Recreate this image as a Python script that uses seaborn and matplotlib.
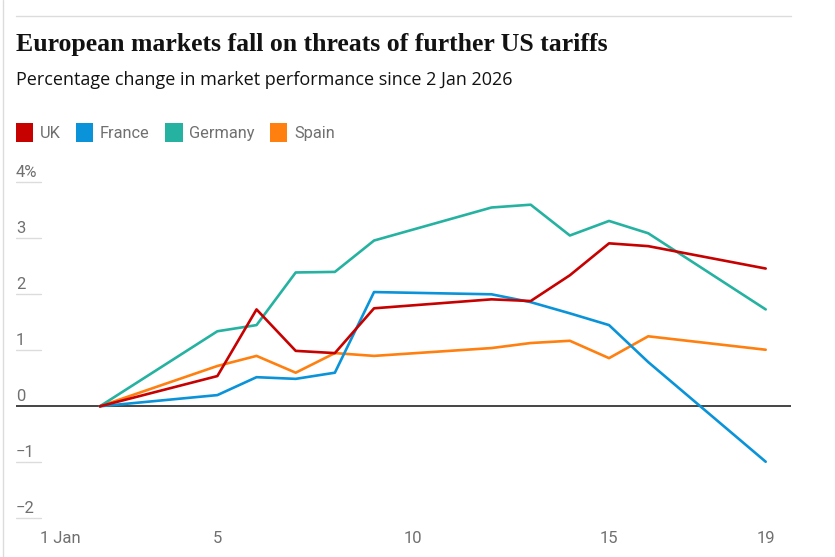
import pandas as pd
import matplotlib.pyplot as plt
import matplotlib.transforms as mtransforms
from matplotlib.lines import Line2D
from matplotlib.patches import Patch
import seaborn as sns


# ============================================================
# Data (percentage change since 2 Jan 2026)
# ============================================================

days = [2, 5, 6, 7, 8, 9, 12, 13, 14, 15, 16, 19]

uk = [0, 0.54, 1.73, 0.99, 0.95, 1.75, 1.91, 1.88, 2.34, 2.91, 2.86, 2.46]
france = [0, 0.20, 0.52, 0.49, 0.60, 2.04, 2.00, 1.86, 1.66, 1.45, 0.79, -0.99]
germany = [0, 1.34, 1.45, 2.39, 2.40, 2.96, 3.55, 3.60, 3.05, 3.31, 3.09, 1.73]
spain = [0, 0.72, 0.90, 0.60, 0.95, 0.90, 1.04, 1.13, 1.17, 0.86, 1.25, 1.01]

markets = ["UK", "France", "Germany", "Spain"]
colors = ["#c70000", "#0a93d8", "#25b2a1", "#ff7f0f"]

x_ticks = [1, 5, 10, 15, 19]
x_labels = ["1 Jan", "5", "10", "15", "19"]
y_ticks = [4, 3, 2, 1, 0, -1, -2]
y_labels = ["4%", "3", "2", "1", "0", "\u22121", "\u22122"]

df = pd.DataFrame({
    "day": days * 4,
    "change": uk + france + germany + spain,
    "market": sum([[m] * len(days) for m in markets], []),
})


# ============================================================
# Theme
# ============================================================

sns.set_theme(style="white")
plt.rcParams["font.family"] = ["Roboto", "DejaVu Sans"]

W, H = 835, 557
fig = plt.figure(figsize=(W / 100, H / 100), dpi=100)

# axes placed in pixel terms
ax_left, ax_right = 16, 791
ax_top, ax_bottom = 150, 524
ax = fig.add_axes([
    ax_left / W,
    (H - ax_bottom) / H,
    (ax_right - ax_left) / W,
    (ax_bottom - ax_top) / H,
])

px_per_day = (765.7 - 60.7) / 18
ax.set_xlim(1 + (ax_left - 60.7) / px_per_day, 1 + (ax_right - 60.7) / px_per_day)
ax.set_ylim((406.3 - ax_bottom) / 56, (406.3 - ax_top) / 56)

ax.axhline(0, color="#121212", linewidth=1.1, zorder=1)

sns.lineplot(
    data=df,
    x="day",
    y="change",
    hue="market",
    hue_order=markets[::-1],
    palette=dict(zip(markets, colors)),
    linewidth=1.9,
    legend=False,
    ax=ax,
    zorder=3,
)

for s in ax.spines.values():
    s.set_visible(False)

ax.set_xlabel("")
ax.set_ylabel("")

# x axis
ax.set_xticks(x_ticks)
ax.set_xticklabels(x_labels)
ax.tick_params(
    axis="x",
    direction="in",
    length=4,
    width=0.8,
    color="#cccccc",
    pad=5,
    labelsize=12,
    labelcolor="#707070",
)

# y axis: labels sitting above short gridlines
ax.set_yticks([])
label_tr = mtransforms.offset_copy(
    ax.get_yaxis_transform(), fig=fig, x=0, y=2, units="points"
)
for v, lab in zip(y_ticks, y_labels):
    if v != 0:
        ax.axhline(v, xmin=0, xmax=25 / (ax_right - ax_left),
                   color="#dcdcdc", linewidth=1, zorder=0)
    ax.text(0, v, lab, transform=label_tr, ha="left", va="bottom",
            fontsize=12, color="#707070")


# ============================================================
# Header
# ============================================================

fig.add_artist(Line2D([16 / W, 791 / W], [(H - 16) / H] * 2,
                      color="#dcdcdc", linewidth=1))
fig.add_artist(Line2D([3 / W, 3 / W], [0, 1], color="#dcdcdc", linewidth=1))

fig.text(16 / W, (H - 51) / H,
         "European markets fall on threats of further US tariffs",
         fontsize=18.5, fontweight="bold", family=["Liberation Serif"],
         color="#121212", va="baseline", ha="left")

fig.text(16 / W, (H - 85) / H,
         "Percentage change in market performance since 2 Jan 2026",
         fontsize=13, color="#121212", va="baseline", ha="left",
         family=["Open Sans", "DejaVu Sans"])

handles = [Patch(facecolor=c, edgecolor="none") for c in colors]
fig.legend(
    handles,
    markets,
    loc="upper left",
    bbox_to_anchor=(16 / W, (H - 123) / H),
    ncol=4,
    frameon=False,
    labelcolor="#707070",
    handlelength=1.05,
    handleheight=1.45,
    handletextpad=0.4,
    columnspacing=0.95,
    borderpad=0,
    borderaxespad=0,
    prop={"family": ["Roboto", "DejaVu Sans"], "size": 11.8},
)

fig.savefig("out.png", dpi=100)
